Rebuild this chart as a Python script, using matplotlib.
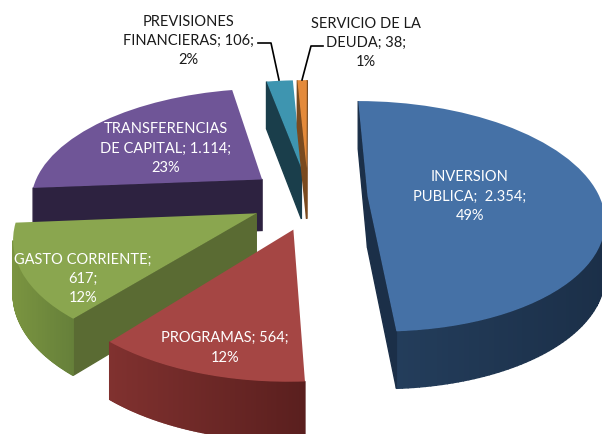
import matplotlib
matplotlib.use('Agg')
import matplotlib.pyplot as plt
import numpy as np
from matplotlib.colors import to_rgb
from matplotlib.transforms import Affine2D, Transform

# Values as printed on the labels
categories = ['INVERSION PUBLICA', 'PROGRAMAS', 'GASTO CORRIENTE',
              'TRANSFERENCIAS DE CAPITAL', 'PREVISIONES FINANCIERAS', 'SERVICIO DE LA DEUDA']
values = [2354, 564, 617, 1114, 106, 38]
labels = ['INVERSION\nPUBLICA;  2.354;\n49%', 'PROGRAMAS; 564;\n12%', 'GASTO CORRIENTE;\n617;\n12%',
          'TRANSFERENCIAS\nDE CAPITAL; 1.114;\n23%', 'PREVISIONES\nFINANCIERAS; 106;\n2%',
          'SERVICIO DE LA\nDEUDA; 38;\n1%']
explode = [0.27, 0.30, 0.27, 0.25, 0.25, 0.25]
nudge = [(-2, 2), (9, 1), (6, 4), (0, 1), (1, 0), (1, 0)]  # slices are not quite on one circle

top_colors = ['#4571A6', '#A54644', '#8AA64F', '#6F5597', '#3E95B0', '#E48A3A']
cut_colors = ['#1B2F48', '#5A1F1E', '#5A6B33', '#2D2240', '#1A3E4B', '#7A4A1E']
arc_left = ['#25405F', '#80312F', '#7A9440', '#2D2240', '#1A3E4B', '#7A4A1E']
arc_right = ['#1B2F48', '#5A1F1E', '#66803A', '#2D2240', '#1A3E4B', '#7A4A1E']
draw_order = [3, 4, 5, 0, 2, 1]  # back to front

label_pos = [(470, 197), (225, 348), (83, 279), (166, 149), (188, 41), (366, 43)]
label_color = ['white', 'white', 'white', 'white', '#1a1a1a', '#1a1a1a']


class PieView(Transform):
    # flat disc to pixel position, with vanishing point above the chart
    input_dims = 2
    output_dims = 2
    cx, cy, rx, ry, k = 307, 196, 232, 112, 0.175

    def transform_non_affine(self, xy):
        xy = np.asarray(xy, dtype=float)
        w = 1 + self.k * xy[:, 1]
        return np.column_stack([self.cx + self.rx * xy[:, 0] / w, self.cy - self.ry * xy[:, 1] / w])


def depth(py):
    return 47 + 0.04 * (py - 80)


fig, ax = plt.subplots(figsize=(6.02, 4.35), dpi=100)
fig.subplots_adjust(0, 0, 1, 1)

wedges, _ = ax.pie(values, explode=explode, colors=top_colors, startangle=90, counterclock=False)

for z, i in enumerate(draw_order):
    w = wedges[i]
    view = PieView() + Affine2D().translate(*nudge[i])
    w.set_transform(view + ax.transData)
    w.set_zorder(2 * z + 2)

    # outline of the wedge in pixels
    ang = np.radians(np.linspace(w.theta2, w.theta1, 150))
    arc = np.column_stack([w.center[0] + w.r * np.cos(ang), w.center[1] + w.r * np.sin(ang)])
    pts = view.transform(np.vstack([w.center, arc]))
    n = len(pts)
    area = 0.5 * np.sum(pts[:, 0] * np.roll(pts[:, 1], -1) - np.roll(pts[:, 0], -1) * pts[:, 1])
    xmin, xmax = pts[1:, 0].min(), pts[1:, 0].max()

    for a in range(n):
        b = (a + 1) % n
        p, q = pts[a], pts[b]
        # keep only the side faces turned towards the viewer
        ny = -(q[0] - p[0])
        if area < 0:
            ny = -ny
        if ny <= 0:
            continue
        if a == 0 or b == 0:
            col = cut_colors[i]
        else:
            t = (p[0] - xmin) / (xmax - xmin)
            col = np.array(to_rgb(arc_left[i])) * (1 - t) + np.array(to_rgb(arc_right[i])) * t
        xs = [p[0], q[0], q[0], p[0]]
        ys = [p[1], q[1], q[1] + depth(q[1]), p[1] + depth(p[1])]
        ax.fill(xs, ys, color=col, lw=1.0, zorder=2 * z + 1)

ax.set_aspect('auto')
ax.set_xlim(0, 602)
ax.set_ylim(435, 0)
ax.axis('off')

# leader lines of the two small slices
ax.plot([279, 271, 258], [81, 44, 44], color='black', lw=1.2, zorder=20)
ax.plot([302, 311, 323], [81, 47, 47], color='black', lw=1.2, zorder=20)

for text, pos, col in zip(labels, label_pos, label_color):
    ax.text(pos[0], pos[1], text, color=col, ha='center', va='center', fontsize=10.5,
            family='Lato', linespacing=1.5, zorder=30)

plt.savefig('out.png', dpi=100)
